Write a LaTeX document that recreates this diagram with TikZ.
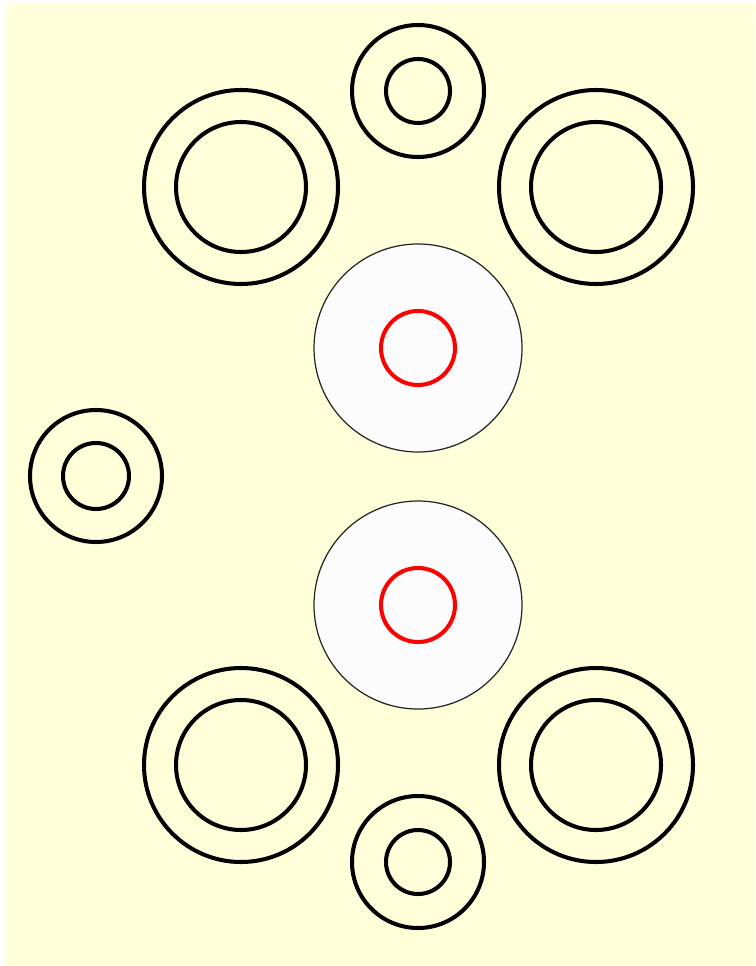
\documentclass[tikz,border=0pt]{standalone}
\usepackage{tikz}
\definecolor{paper}{RGB}{255,255,217}
\definecolor{bore}{RGB}{252,252,252}
\begin{document}
\begin{tikzpicture}[x=0.02cm, y=-0.02cm,
  ring/.style={draw=black, line width=2.3pt},
  bore/.style={draw=black!85, fill=bore, line width=0.7pt},
  core/.style={draw=red, line width=2.3pt}
]
\useasboundingbox (0,0) rectangle (755,966);
\fill[white] (0,0) rectangle (755,966);
\fill[paper] (6,3) rectangle (755,966);
% washers: centre x/y, outer and inner radius
\foreach \x/\y/\ro/\ri in {418/91/66/32, 241/187/97/65, 596/187/97/65,
    96/476/66/33, 241/765/97/65, 596/765/97/65, 418/862/66/32} {
  \draw[ring] (\x,\y) circle[radius=\ro];
  \draw[ring] (\x,\y) circle[radius=\ri];
}
% two bores with red cores
\foreach \y in {348,605} {
  \draw[bore] (418,\y) circle[radius=104];
  \draw[core] (418,\y) circle[radius=37];
}
\end{tikzpicture}
\end{document}
